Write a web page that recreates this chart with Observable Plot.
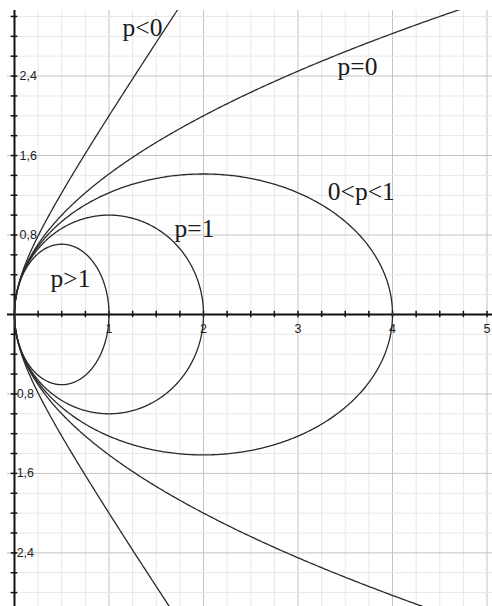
<!DOCTYPE html>
<html><head><meta charset="utf-8">
<script src="https://cdn.jsdelivr.net/npm/d3@7"></script>
<script src="https://cdn.jsdelivr.net/npm/@observablehq/plot@0.6"></script>
<style>body{margin:0;background:#fff}</style>
</head><body><div id="chart"></div>
<script>
// Conic family y^2 = 2x - p x^2, parameters
const pValues = [2, 1, 0.5, 0, -2];
const curveLabels = ["p>1", "p=1", "0<p<1", "p=0", "p<0"];
const labelX = [0.593, 1.905, 3.67, 3.63, 1.355];
const labelY = [0.362, 0.866, 1.23, 2.49, 2.89];
const xTickLabels = [1, 2, 3, 4, 5];
const yTickLabels = [2.4, 1.6, 0.8, -0.8, -1.6, -2.4];

const xDomain = [-0.148, 5.058];
const yDomain = [-2.94, 3.06];
const gridLeft = -0.074;

// curve points from the conic equation for each p
function conic(p) {
  const pts = [];
  const n = 600;
  if (p > 0) {
    const a = 1 / p, b = 1 / Math.sqrt(p);
    for (let i = 0; i <= n; i++) {
      const t = (2 * Math.PI * i) / n;
      pts.push({x: a * (1 - Math.cos(t)), y: b * Math.sin(t), p});
    }
  } else if (p === 0) {
    for (let i = 0; i <= n; i++) {
      const t = -3.3 + (6.6 * i) / n;
      pts.push({x: t * t / 2, y: t, p});
    }
  } else {
    const q = -p;
    for (let i = 0; i <= n; i++) {
      const u = -2.4 + (4.8 * i) / n;
      pts.push({x: (Math.cosh(u) - 1) / q, y: Math.sinh(u) / Math.sqrt(q), p});
    }
  }
  return pts;
}
const curves = pValues.flatMap(conic);

const xGrid = d3.range(1, 21).map(i => i * 0.25);
const yGrid = d3.range(-14, 16).filter(i => i !== 0).map(i => +(i * 0.2).toFixed(2));
const isMajorY = v => Math.abs(Math.round(v / 0.8) * 0.8 - v) < 1e-6;
const labels = curveLabels.map((t, i) => ({t, x: labelX[i], y: labelY[i]}));
const fmt = v => String(v).replace(".", ",");
const sans = "Liberation Sans, Arial, sans-serif";

const chart = Plot.plot({
  width: 492,
  height: 606,
  marginTop: 10, marginBottom: 0, marginLeft: 0, marginRight: 0,
  x: {domain: xDomain, axis: null},
  y: {domain: yDomain, axis: null},
  style: {background: "#fff"},
  marks: [
    // grid
    Plot.ruleX(xGrid, {x: d => d, y1: yDomain[0], y2: yDomain[1],
      stroke: d => Number.isInteger(d) ? "#c4c4c4" : "#e8e8e8", strokeWidth: 1}),
    Plot.ruleY(yGrid, {y: d => d, x1: gridLeft, x2: xDomain[1],
      stroke: d => isMajorY(d) ? "#c4c4c4" : "#e8e8e8", strokeWidth: 1}),
    // axes
    Plot.ruleX([0], {y1: yDomain[0], y2: yDomain[1], stroke: "#111", strokeWidth: 2}),
    Plot.ruleY([0], {x1: gridLeft, x2: xDomain[1], stroke: "#111", strokeWidth: 2}),
    Plot.ruleY(yGrid, {y: d => d, x1: -0.035, x2: 0.035, stroke: "#111", strokeWidth: 1.5}),
    Plot.ruleX(xGrid, {x: d => d, y1: -0.032, y2: 0.032, stroke: "#111", strokeWidth: 1.5}),
    // curves
    Plot.line(curves, {x: "x", y: "y", z: "p", stroke: "#2a2a2a", strokeWidth: 1.3, clip: true}),
    // tick labels
    Plot.text(yTickLabels, {x: 0, y: d => d, text: d => fmt(d), textAnchor: "start",
      dx: 5, fontSize: 12.5, fontFamily: sans, fill: "#222", filter: d => d > 0}),
    Plot.text(yTickLabels, {x: 0, y: d => d, text: d => fmt(d), textAnchor: "start",
      dx: -2, fontSize: 12.5, fontFamily: sans, fill: "#222", filter: d => d < 0}),
    Plot.text(xTickLabels, {x: d => d, y: 0, text: d => String(d), dy: 15,
      fontSize: 12.5, fontFamily: sans, fill: "#222"}),
    // curve labels
    Plot.text(labels, {x: "x", y: "y", text: "t", fontSize: 25.5,
      fontFamily: "Liberation Serif, Times New Roman, serif", fill: "#1a1a1a"})
  ]
});
document.getElementById("chart").append(chart);
</script>
</body></html>
